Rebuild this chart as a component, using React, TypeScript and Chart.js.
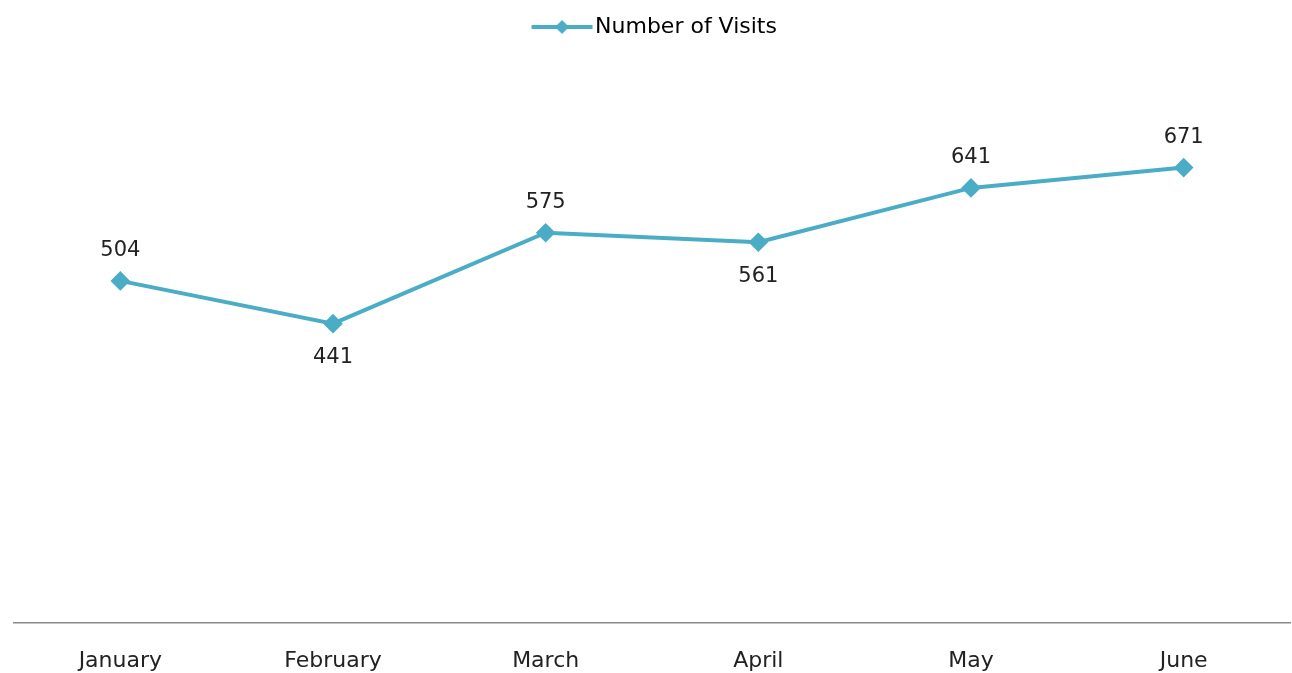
import React, { useEffect, useRef } from "react";
import { Chart, registerables } from "chart.js";

Chart.register(...registerables);

const categories = ["January", "February", "March", "April", "May", "June"];
const visits = [504, 441, 575, 561, 641, 671];
const seriesLabel = "Number of Visits";
const lineColor = "#4BACC6";
const fontFamily = "'DejaVu Sans', sans-serif";

function makeLegendSymbol(): HTMLCanvasElement {
  const c = document.createElement("canvas");
  c.width = 100;
  c.height = 14;
  const ctx = c.getContext("2d")!;
  ctx.strokeStyle = lineColor;
  ctx.lineWidth = 4;
  ctx.beginPath();
  ctx.moveTo(26, 7);
  ctx.lineTo(87, 7);
  ctx.stroke();
  ctx.fillStyle = lineColor;
  ctx.beginPath();
  ctx.moveTo(56.5, 0);
  ctx.lineTo(63.5, 7);
  ctx.lineTo(56.5, 14);
  ctx.lineTo(49.5, 7);
  ctx.closePath();
  ctx.fill();
  return c;
}

const layoutTweaks = {
  id: "layoutTweaks",
  beforeInit(chart: any) {
    const legend = chart.legend;
    if (legend && !legend.__patched) {
      const orig = legend.fit;
      legend.fit = function () {
        orig.call(this);
        this.height += 32;
      };
      legend.__patched = true;
    }
  },
};

const dataLabelPlugin = {
  id: "dataLabels",
  afterDatasetsDraw(chart: any) {
    const ctx = chart.ctx;
    const meta = chart.getDatasetMeta(0);
    const data = chart.data.datasets[0].data as number[];
    ctx.save();
    ctx.font = `21px ${fontFamily}`;
    ctx.fillStyle = "#222222";
    ctx.textAlign = "center";
    ctx.textBaseline = "middle";
    meta.data.forEach((pt: any, i: number) => {
      const v = data[i];
      const prev = i > 0 ? data[i - 1] : Infinity;
      const next = i < data.length - 1 ? data[i + 1] : Infinity;
      const below = v < prev && v < next;
      const y = below ? pt.y + 34 : pt.y - 30;
      ctx.fillText(String(v), pt.x, y);
    });
    ctx.restore();
  },
};

export default function App() {
  const ref = useRef<HTMLCanvasElement>(null);
  useEffect(() => {
    if (!ref.current) return;
    const symbol = makeLegendSymbol();
    const chart = new Chart(ref.current, {
      type: "line",
      data: {
        labels: categories,
        datasets: [
          {
            label: seriesLabel,
            data: visits,
            borderColor: lineColor,
            backgroundColor: lineColor,
            borderWidth: 4,
            pointStyle: "rectRot",
            pointRadius: 7,
            pointHoverRadius: 7,
            tension: 0,
          },
        ],
      },
      options: {
        animation: false,
        responsive: false,
        layout: { autoPadding: false, padding: { left: 14, right: 2, top: 6, bottom: 2 } },
        plugins: {
          tooltip: { enabled: false },
          legend: {
            position: "top",
            labels: {
              usePointStyle: true,
              pointStyleWidth: 57,
              boxHeight: 14,
              padding: 10,
              color: "#222222",
              font: { family: fontFamily, size: 22 },
              generateLabels: (ch: any) =>
                ch.data.datasets.map((d: any, i: number) => ({
                  text: d.label,
                  pointStyle: symbol,
                  fillStyle: lineColor,
                  strokeStyle: lineColor,
                  lineWidth: 0,
                  datasetIndex: i,
                  hidden: false,
                })),
            },
          },
        },
        scales: {
          x: {
            offset: true,
            grid: { display: false, drawTicks: false },
            border: { display: true, color: "#8a8a8a", width: 1.5 },
            ticks: {
              color: "#222222",
              padding: 25,
              font: { family: fontFamily, size: 22 },
            },
            afterFit: (scale: any) => {
              scale.height = 48;
              scale.paddingLeft = 0;
              scale.paddingRight = 0;
            },
          },
          y: {
            display: false,
            min: 0,
            max: 800,
          },
        },
      },
      plugins: [layoutTweaks, dataLabelPlugin],
    });
    return () => chart.destroy();
  }, []);
  return (
    <div style={{ position: "fixed", left: 0, top: 0, width: 1292, height: 673, background: "#fff" }}>
      <canvas ref={ref} width={1292} height={673} />
    </div>
  );
}
